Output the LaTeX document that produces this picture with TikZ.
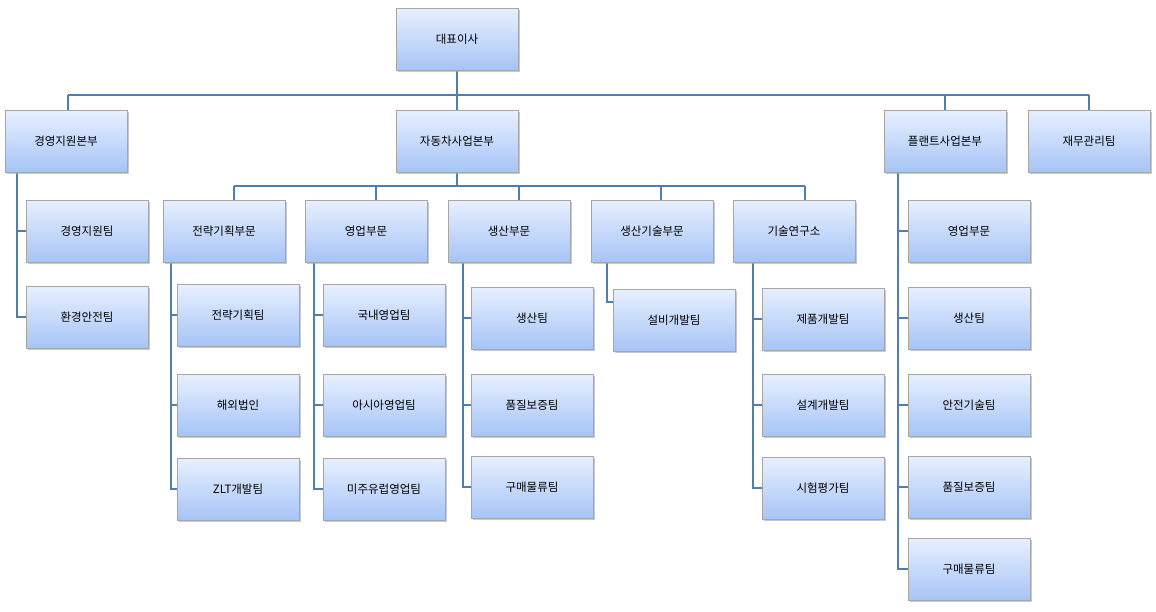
\documentclass[tikz,border=0pt]{standalone}
\usepackage{fontspec}
\newfontfamily\kr{Noto Sans CJK KR}
\usetikzlibrary{shadows}
\definecolor{ln}{HTML}{4F7FAD}
\definecolor{btop}{HTML}{E8F0FF}
\definecolor{bbot}{HTML}{A6C4F6}
\tikzset{bx/.style={draw=gray!70,top color=btop,bottom color=bbot,minimum width=122pt,minimum height=62pt,inner sep=0pt,font=\kr\fontsize{11.5}{13}\selectfont,drop shadow={shadow xshift=1.5pt,shadow yshift=-1.5pt,fill=black!35,opacity=.6}},
cn/.style={draw=ln,line width=1.5pt}}
\begin{document}
\begin{tikzpicture}[x=1pt,y=-1pt]
\useasboundingbox[fill=white] (0,0) rectangle (1156,611);
% connectors first
\coordinate (t) at (457,70);
\draw[cn] (457,70) -- (457,111);
\draw[cn] (68,95) -- (1089,95);
\foreach \x in {68,945,1089} \draw[cn] (\x,95) -- (\x,111);
\draw[cn] (457,172) -- (457,186);
\draw[cn] (234,186) -- (805,186);
\foreach \x in {234,376,519,661,805} \draw[cn] (\x,186) -- (\x,201);
\draw[cn] (17,172) -- (17,317) -- (26,317); \draw[cn] (17,231) -- (26,231);
\draw[cn] (171,262) -- (171,489) -- (178,489); \draw[cn] (171,315)--(178,315); \draw[cn] (171,405)--(178,405);
\draw[cn] (314,262) -- (314,489) -- (323,489); \draw[cn] (314,315)--(323,315); \draw[cn] (314,405)--(323,405);
\draw[cn] (463,262) -- (463,487) -- (471,487); \draw[cn] (463,318)--(471,318); \draw[cn] (463,405)--(471,405);
\draw[cn] (607,262) -- (607,302) -- (613,302);
\draw[cn] (753,262) -- (753,488) -- (762,488); \draw[cn] (753,319)--(762,319); \draw[cn] (753,405)--(762,405);
\draw[cn] (898,172) -- (898,569) -- (908,569);
\foreach \y in {231,318,405,487} \draw[cn] (898,\y)--(908,\y);
% boxes
\node[bx] (ceo) at (457,39) {대표이사};
\node[bx] (a) at (66,141) {경영지원본부};
\node[bx] (b) at (457,141) {자동차사업본부};
\node[bx] (c) at (945,141) {플랜트사업본부};
\node[bx] (d) at (1089,141) {재무관리팀};
\node[bx] (a1) at (87,231) {경영지원팀};
\node[bx] (a2) at (87,317) {환경안전팀};
\node[bx] (b1) at (224,231) {전략기획부문};
\node[bx] (b2) at (366,231) {영업부문};
\node[bx] (b3) at (509,231) {생산부문};
\node[bx] (b4) at (652,231) {생산기술부문};
\node[bx] (b5) at (794,231) {기술연구소};
\node[bx] (b11) at (238,315) {전략기획팀};
\node[bx] (b12) at (238,405) {해외법인};
\node[bx] (b13) at (238,489) {ZLT개발팀};
\node[bx] (b21) at (384,315) {국내영업팀};
\node[bx] (b22) at (384,405) {아시아영업팀};
\node[bx] (b23) at (384,489) {미주유럽영업팀};
\node[bx] (b31) at (532,318) {생산팀};
\node[bx] (b32) at (532,405) {품질보증팀};
\node[bx] (b33) at (532,487) {구매물류팀};
\node[bx] (b41) at (674,320) {설비개발팀};
\node[bx] (b51) at (823,319) {제품개발팀};
\node[bx] (b52) at (823,405) {설계개발팀};
\node[bx] (b53) at (823,488) {시험평가팀};
\node[bx] (c1) at (969,231) {영업부문};
\node[bx] (c2) at (969,318) {생산팀};
\node[bx] (c3) at (969,405) {안전기술팀};
\node[bx] (c4) at (969,487) {품질보증팀};
\node[bx] (c5) at (969,569) {구매물류팀};
\end{tikzpicture}
\end{document}
